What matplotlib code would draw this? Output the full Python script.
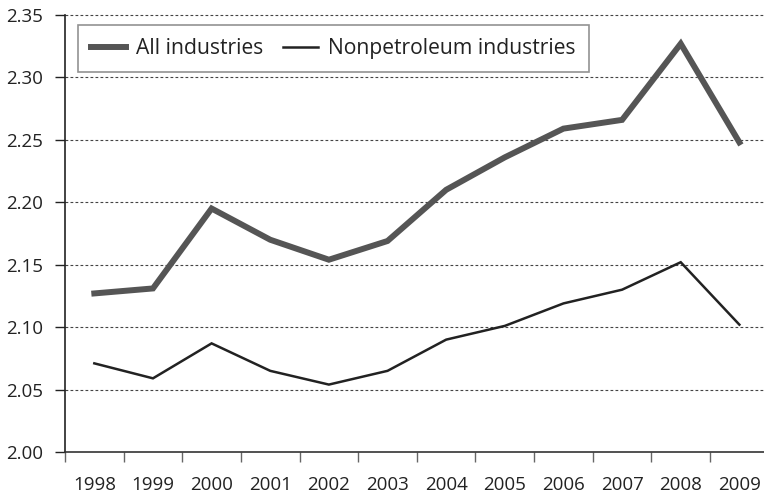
import matplotlib
matplotlib.use("Agg")
import matplotlib.pyplot as plt
import numpy as np

years = ["1998", "1999", "2000", "2001", "2002", "2003", "2004", "2005", "2006", "2007", "2008", "2009"]
all_industries = [2.127, 2.131, 2.195, 2.170, 2.154, 2.169, 2.210, 2.236, 2.259, 2.266, 2.327, 2.248]
nonpetroleum = [2.071, 2.059, 2.087, 2.065, 2.054, 2.065, 2.090, 2.101, 2.119, 2.130, 2.152, 2.102]
yticks = [2.00, 2.05, 2.10, 2.15, 2.20, 2.25, 2.30, 2.35]

plt.rcParams['font.family'] = ['Open Sans', 'DejaVu Sans']

W, H = 764, 501
fig = plt.figure(figsize=(W / 100, H / 100), dpi=100)
left, bottom, top = 65, 452, 15
ax = fig.add_axes([left / W, 1 - bottom / H, 1 - left / W, (bottom - top) / H])

x = np.arange(len(years))
ax.plot(x, all_industries, color="#555555", lw=4.3, solid_joinstyle="miter", label="All industries")
ax.plot(x, nonpetroleum, color="#222222", lw=1.8, solid_joinstyle="miter", label="Nonpetroleum industries")

ax.set_ylim(2.00, 2.35)
ax.set_xlim(-0.5, 11.42)
ax.set_yticks(yticks)
ax.set_yticklabels([f"{v:.2f}" for v in yticks])
for v in yticks[1:]:
    ax.axhline(v, color="#444444", lw=0.8, ls=(0, (2.5, 2)), zorder=0, clip_on=False)

ax.set_xticks(x)
ax.set_xticklabels(years)
ax.set_xticks(np.arange(-0.5, 11, 1.0), minor=True)
ax.tick_params(axis="x", which="major", length=0, pad=17, labelsize=13.5, colors="#222222")
ax.tick_params(axis="x", which="minor", length=7.5, width=1.0, direction="out", color="#666666")
ax.tick_params(axis="y", length=7.2, width=1.0, pad=8.5, labelsize=13.5, colors="#222222")

for s in ["top", "right"]:
    ax.spines[s].set_visible(False)
ax.spines["left"].set_color("#222222")
ax.spines["left"].set_linewidth(1.2)
ax.spines["bottom"].set_color("#333333")
ax.spines["bottom"].set_linewidth(1.2)

leg = ax.legend(loc="upper left", bbox_to_anchor=(78 / W, 1 - 25 / H), bbox_transform=fig.transFigure,
                ncol=2, frameon=True, fancybox=False, fontsize=15.2, borderaxespad=0,
                handlelength=1.65, handletextpad=0.5, columnspacing=0.9, borderpad=0.62)
leg.get_frame().set_edgecolor("#777777")
leg.get_frame().set_linewidth(1.2)
for t in leg.get_texts():
    t.set_color("#222222")

fig.savefig("out.png", dpi=100)
